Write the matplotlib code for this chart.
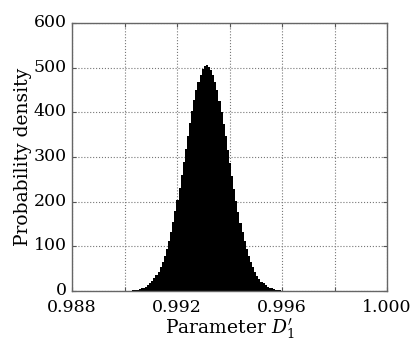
import numpy as np
import matplotlib
matplotlib.use("Agg")
import matplotlib.pyplot as plt
from matplotlib.transforms import ScaledTranslation

# histogram: bin edges start and width, then bar heights
bin_start = 0.98894
bin_width = 0.00008
density = [
    0.05, 0.06, 0.05, 0.07, 0.08, 0.07, 0.09, 0.1, 0.1, 0.12, 0.15, 0.17,
    0.25, 0.35, 0.5, 0.8, 1.1, 1.6, 2.3,
    3.2, 4.3, 5.8, 7.7, 10, 13, 17, 22, 28, 35, 43, 53, 65,
    79, 94, 112, 132, 154, 178, 203, 230, 259, 288, 317, 347, 375, 402,
    427, 450, 469, 484, 496, 503,
    505,
    502, 495, 483, 468, 449, 426, 401, 374, 346, 316, 287, 258, 229, 202,
    177, 153, 131, 111, 94, 78, 64, 53, 43, 34, 27, 21, 17, 13, 10, 7.6,
    5.7, 4.2, 3.1, 2.2, 1.5, 1.0, 0.7, 0.5, 0.35, 0.25,
    0.18, 0.15, 0.12, 0.1, 0.1, 0.08, 0.07, 0.06, 0.05, 0.05, 0.04, 0.04,
]

xticks = [0.988, 0.990, 0.992, 0.994, 0.996, 0.998, 1.000]
xticklabels = ['0.988', '', '0.992', '', '0.996', '', '1.000']
yticks = [0, 100, 200, 300, 400, 500, 600]

plt.rcParams['font.family'] = ['DejaVu Serif']
plt.rcParams['mathtext.fontset'] = 'dejavuserif'

fig = plt.figure(figsize=(4.15, 3.42), dpi=100)
ax = fig.add_axes([72/415, 51/342, 315/415, 268/342])

edges = bin_start + bin_width*np.arange(len(density))
ax.bar(edges, density, width=bin_width, align='edge', color='black', linewidth=0)

ax.set_xlim(0.988, 1.000)
ax.set_ylim(0, 600)
ax.set_xticks(xticks)
ax.set_xticklabels(xticklabels)
ax.set_yticks(yticks)
ax.grid(True, linestyle=':', color='#777777', linewidth=0.8)
ax.set_axisbelow(True)
ax.tick_params(direction='in', length=3, width=0.8, color='#555555',
               labelsize=12.5, top=True, right=True)
ax.tick_params(axis='x', pad=6)
ax.tick_params(axis='y', pad=4)
for s in ax.spines.values():
    s.set_color('#666666')
    s.set_linewidth(1.0)

# y labels sit a little above their ticks in the original
up = ScaledTranslation(0, 0.025, fig.dpi_scale_trans)
for lab in ax.get_yticklabels():
    lab.set_transform(lab.get_transform() + up)

ax.set_xlabel(r"Parameter $D_1'$", fontsize=13.5, labelpad=0)
ax.set_ylabel('Probability density', fontsize=13.5, labelpad=1)

fig.savefig('out.png', dpi=100)
